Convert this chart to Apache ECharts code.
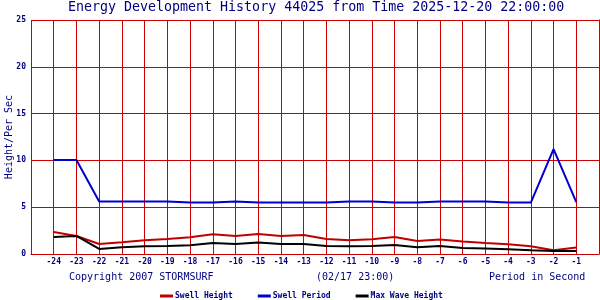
<!DOCTYPE html>
<html><head><meta charset="utf-8">
<script src="https://cdn.jsdelivr.net/npm/echarts@6/dist/echarts.min.js"></script>
<style>html,body{margin:0;padding:0;background:#fff}#c{width:600px;height:300px}</style>
</head><body><div id="c"></div>
<script>
const hours = [-24,-23,-22,-21,-20,-19,-18,-17,-16,-15,-14,-13,-12,-11,-10,-9,-8,-7,-6,-5,-4,-3,-2,-1];
const swellHeight = [2.36,1.93,1.07,1.25,1.47,1.61,1.79,2.11,1.93,2.14,1.93,2.04,1.61,1.47,1.58,1.82,1.39,1.54,1.33,1.18,1.04,0.83,0.40,0.69];
const swellPeriod = [10.05,10.05,5.6,5.6,5.6,5.6,5.5,5.5,5.6,5.5,5.5,5.5,5.5,5.6,5.6,5.5,5.5,5.6,5.6,5.6,5.5,5.5,11.2,5.55];
const maxWave = [1.82,1.93,0.54,0.72,0.82,0.86,0.93,1.18,1.07,1.22,1.07,1.07,0.86,0.82,0.86,0.96,0.72,0.86,0.64,0.60,0.50,0.40,0.32,0.32];
const yTicks = [0,5,10,15,20,25];
const seriesNames = ['Swell Height','Swell Period','Max Wave Height'];
const titleText = 'Energy Development History 44025 from Time 2025-12-20 22:00:00';

const FONT = 'DejaVu Sans Mono';
const NAVY = '#000080';
const GRID = '#cc0000';
const pair = arr => hours.map((h,i)=>[h,arr[i]]);

const chart = echarts.init(document.getElementById('c'), null, {renderer:'canvas'});
chart.setOption({
  animation:false,
  title:{text:titleText,left:68,top:1,padding:0,textStyle:{fontFamily:FONT,fontSize:13.3,fontWeight:'normal',color:NAVY}},
  grid:{left:31,right:1,top:20,bottom:46,show:false,containLabel:false,outerBoundsMode:'none'},
  legend:{
    top:287,left:155,itemWidth:13,itemHeight:3,itemGap:25,icon:'rect',
    textStyle:{fontFamily:FONT,fontSize:8,fontWeight:'bold',color:NAVY,padding:[0,0,0,-3]},
    data:seriesNames
  },
  xAxis:{
    type:'value',min:-25,max:0,interval:1,
    axisLine:{show:true,lineStyle:{color:GRID,width:1}},
    axisTick:{show:false},
    splitLine:{show:true,lineStyle:{color:GRID,width:1}},
    axisLabel:{fontFamily:FONT,fontSize:8,fontWeight:'bold',color:NAVY,margin:4,
      formatter:v=>(hours.indexOf(v)>=0?String(v):'')}
  },
  yAxis:{
    type:'value',min:yTicks[0],max:yTicks[yTicks.length-1],interval:5,
    name:'Height/Per Sec',nameLocation:'middle',nameGap:17,nameMoveOverlap:false,
    nameTextStyle:{fontFamily:FONT,fontSize:10,color:NAVY},
    axisLine:{show:true,lineStyle:{color:GRID,width:1}},
    axisTick:{show:false},
    splitLine:{show:true,lineStyle:{color:GRID,width:1}},
    axisLabel:{fontFamily:FONT,fontSize:8,fontWeight:'bold',color:NAVY,margin:5}
  },
  graphic:[
    {type:'text',left:69,top:272,style:{text:'Copyright 2007 STORMSURF',font:'10px "DejaVu Sans Mono"',fill:NAVY}},
    {type:'text',left:316,top:272,style:{text:'(02/17 23:00)',font:'10px "DejaVu Sans Mono"',fill:NAVY}},
    {type:'text',left:489,top:272,style:{text:'Period in Second',font:'10px "DejaVu Sans Mono"',fill:NAVY}}
  ],
  series:[
    {name:seriesNames[0],type:'line',data:pair(swellHeight),symbol:'none',lineStyle:{color:'#c00000',width:2},itemStyle:{color:'#c00000'}},
    {name:seriesNames[1],type:'line',data:pair(swellPeriod),symbol:'none',lineStyle:{color:'#0000cc',width:2},itemStyle:{color:'#0000cc'}},
    {name:seriesNames[2],type:'line',data:pair(maxWave),symbol:'none',lineStyle:{color:'#000000',width:2},itemStyle:{color:'#000000'}}
  ]
});
</script></body></html>
